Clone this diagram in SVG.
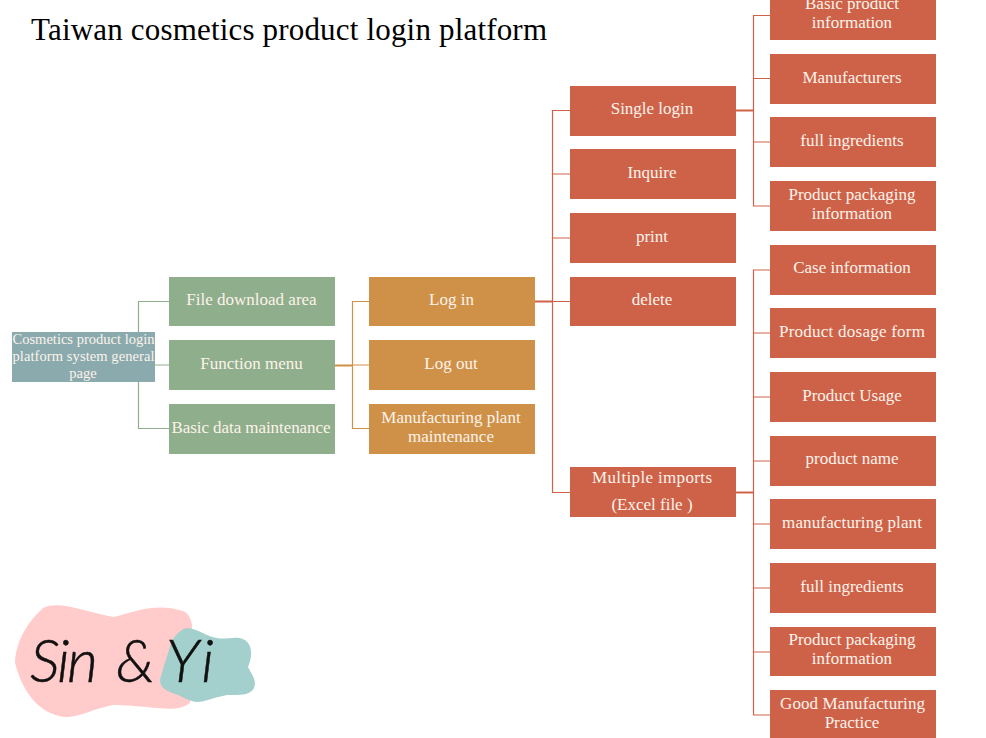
<svg xmlns="http://www.w3.org/2000/svg" width="986" height="738" viewBox="0 0 986 738">
<style>
text{font-family:"Liberation Serif","Times New Roman",serif}
.t{font-size:17px;fill:#fdf3ea;text-anchor:middle}
.s{font-size:14.500px;fill:#fdf3ea;text-anchor:middle}
.root{fill:#8aaaae}.g{fill:#8fae8b}.o{fill:#cf9148}.r{fill:#ce6249}
.cg,.co,.cr{fill:none;stroke-width:1.2}
.cg{stroke:#8fae8b}.co{stroke:#cf9148}.cr{stroke:#ce6249}
.hand{font-family:"Lato","Liberation Sans",sans-serif;font-style:italic;font-weight:300;font-size:60px;fill:#111;stroke:#111;stroke-width:.5}
</style>
<rect width="986" height="738" fill="#fff"/>
<text id="title" x="31" y="40" font-size="31" textLength="516" lengthAdjust="spacing" fill="#000">Taiwan cosmetics product login platform</text>
<g id="connectors">
<path class="cg" d="M138.500 332V301.500H169M138.500 382V428.500H169"/>
<path class="cg" d="M155 365H169" stroke-opacity=".5" style="stroke-width:2"/>
<path class="co" d="M369 301.500H352.500V428.500H369M352.500 365H369"/>
<path class="co" d="M335 365.500H352.500" style="stroke-width:2"/>
<path class="cr" d="M570 110.500H552.500V492.500H570M552.500 174H570M552.500 238H570M552.500 301.500H570"/>
<path class="cr" d="M535 301.500H552.500" style="stroke-width:2"/>
<path class="cr" d="M770 15.500H753.500V206H770M753.500 78.500H770M753.500 142H770"/>
<path class="cr" d="M736 110.500H753.500" style="stroke-width:2"/>
<path class="cr" d="M770 270H753.500V715H770M753.500 333H770M753.500 397H770M753.500 461H770M753.500 524H770M753.500 588H770M753.500 652H770"/>
<path class="cr" d="M736 492.500H753.500" style="stroke-width:2"/>
</g>
<g id="root"><rect class="root" x="12" y="332" width="143" height="50"/>
<text class="s" x="83.500" y="344" textLength="142">Cosmetics product login</text><text class="s" x="83.500" y="361" textLength="142">platform system general</text><text class="s" x="83" y="378">page</text></g>
<g id="file-download"><rect class="g" x="169" y="277" width="166" height="49"/><text class="t" x="251.500" y="305">File download area</text></g>
<g id="function-menu"><rect class="g" x="169" y="340" width="166" height="50"/><text class="t" x="251.500" y="369">Function menu</text></g>
<g id="basic-data"><rect class="g" x="169" y="404" width="166" height="50"/><text class="t" x="251" y="433" textLength="159">Basic data maintenance</text></g>
<g id="log-in"><rect class="o" x="369" y="277" width="166" height="49"/><text class="t" x="451.500" y="305">Log in</text></g>
<g id="log-out"><rect class="o" x="369" y="340" width="166" height="50"/><text class="t" x="451" y="369">Log out</text></g>
<g id="plant-maintenance"><rect class="o" x="369" y="404" width="166" height="50"/><text class="t" x="451" y="423">Manufacturing plant</text><text class="t" x="451" y="442">maintenance</text></g>
<g id="single-login"><rect class="r" x="570" y="86" width="166" height="50"/><text class="t" x="652" y="114">Single login</text></g>
<g id="inquire"><rect class="r" x="570" y="149" width="166" height="50"/><text class="t" x="652" y="178">Inquire</text></g>
<g id="print"><rect class="r" x="570" y="213" width="166" height="50"/><text class="t" x="652" y="242">print</text></g>
<g id="delete"><rect class="r" x="570" y="277" width="166" height="49"/><text class="t" x="652" y="305">delete</text></g>
<g id="multiple-imports"><rect class="r" x="570" y="467" width="166" height="50"/><text class="t" x="652" y="483" textLength="120">Multiple imports</text><text class="t" x="652" y="510">(Excel file )</text></g>
<g id="basic-info"><rect class="r" x="770" y="-10" width="166" height="50"/><text class="t" x="852" y="9">Basic product</text><text class="t" x="852" y="28">information</text></g>
<g id="manufacturers"><rect class="r" x="770" y="54" width="166" height="50"/><text class="t" x="852" y="83">Manufacturers</text></g>
<g id="ingredients-a"><rect class="r" x="770" y="117" width="166" height="50"/><text class="t" x="852" y="146">full ingredients</text></g>
<g id="packaging-a"><rect class="r" x="770" y="181" width="166" height="50"/><text class="t" x="852" y="200">Product packaging</text><text class="t" x="852" y="219">information</text></g>
<g id="case-info"><rect class="r" x="770" y="245" width="166" height="50"/><text class="t" x="852" y="273">Case information</text></g>
<g id="dosage-form"><rect class="r" x="770" y="308" width="166" height="50"/><text class="t" x="852" y="337" textLength="146">Product dosage form</text></g>
<g id="usage"><rect class="r" x="770" y="372" width="166" height="50"/><text class="t" x="852" y="401">Product Usage</text></g>
<g id="product-name"><rect class="r" x="770" y="436" width="166" height="50"/><text class="t" x="852" y="464">product name</text></g>
<g id="plant"><rect class="r" x="770" y="499" width="166" height="50"/><text class="t" x="852" y="528" textLength="140">manufacturing plant</text></g>
<g id="ingredients-b"><rect class="r" x="770" y="563" width="166" height="50"/><text class="t" x="852" y="592">full ingredients</text></g>
<g id="packaging-b"><rect class="r" x="770" y="627" width="166" height="49"/><text class="t" x="852" y="645">Product packaging</text><text class="t" x="852" y="664">information</text></g>
<g id="gmp"><rect class="r" x="770" y="690" width="166" height="48"/><text class="t" x="852.500" y="709" textLength="145">Good Manufacturing</text><text class="t" x="852" y="728">Practice</text></g>
<g id="logo">
<path fill="#ffcbcb" d="M15 663C16 640 28 622 43 608C60 600 85 612 113 617C135 612 155 602 183 611C190 614 192 622 192 627L190 703C175 714 160 706 113 705C95 708 80 717 67 717C45 716 25 700 15 663Z"/>
<path fill="#a3d0cd" d="M160 680C163 668 166 660 169 650C172 638 177 632 186 628C198 628 207 637 217 638C227 640 237 635 245 640C252 645 253 655 248 667C252 675 257 680 254 688C250 696 238 695 227 695C215 697 205 702 197 702C187 701 181 695 172 693C165 690 160 687 160 680Z"/>
<text class="hand" x="30" y="682" textLength="68">Sin</text>
<text class="hand" x="116" y="682" font-size="52" textLength="32">&amp;</text>
<text class="hand" x="166" y="682" textLength="48">Yi</text>
</g>
</svg>
